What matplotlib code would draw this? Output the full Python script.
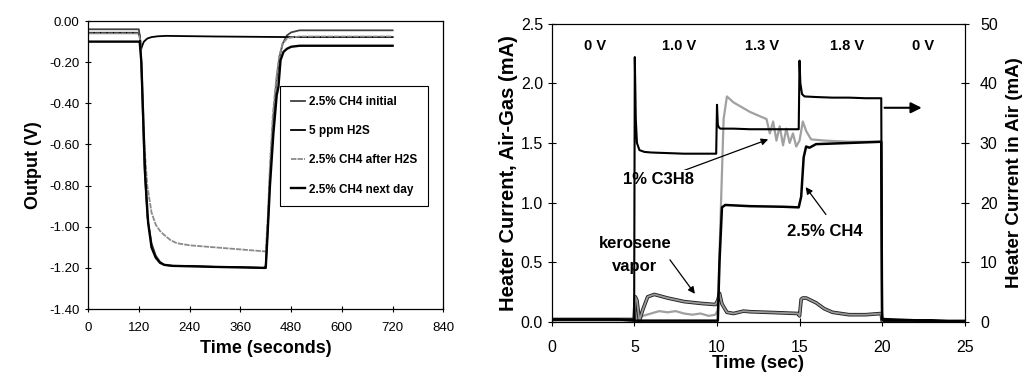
import matplotlib
matplotlib.use("Agg")
import matplotlib.pyplot as plt
import matplotlib.patheffects as pe
from matplotlib.ticker import FormatStrFormatter

plt.rcParams['font.family'] = ['Liberation Sans', 'DejaVu Sans']

# ---- left panel: sensor output, seconds ----
t_init = [0, 120, 124, 128, 133, 140, 150, 160, 170, 180, 200, 250, 300, 360, 415, 420, 425, 430, 437, 445, 452, 460, 470, 480, 500, 600, 720]
v_init = [-0.04, -0.04, -0.10, -0.35, -0.70, -0.95, -1.08, -1.14, -1.17, -1.185, -1.19, -1.19, -1.195, -1.195, -1.20, -1.19, -1.00, -0.75, -0.50, -0.30, -0.18, -0.11, -0.07, -0.055, -0.045, -0.045, -0.045]

t_h2s = [0, 118, 122, 125, 128, 132, 140, 150, 165, 185, 220, 300, 420, 480, 600, 720]
v_h2s = [-0.057, -0.057, -0.07, -0.14, -0.12, -0.10, -0.085, -0.078, -0.074, -0.072, -0.073, -0.075, -0.077, -0.078, -0.078, -0.078]

t_after = [0, 120, 124, 128, 133, 140, 150, 160, 170, 180, 195, 210, 240, 300, 360, 420, 425, 430, 437, 445, 452, 460, 470, 480, 500, 600, 720]
v_after = [-0.06, -0.06, -0.10, -0.30, -0.60, -0.80, -0.93, -0.99, -1.02, -1.04, -1.065, -1.08, -1.09, -1.10, -1.11, -1.12, -0.95, -0.70, -0.45, -0.28, -0.17, -0.11, -0.085, -0.08, -0.075, -0.075, -0.075]

t_next = [0, 122, 126, 130, 135, 142, 150, 160, 170, 180, 200, 300, 420, 424, 430, 438, 446, 450, 455, 462, 470, 480, 500, 600, 720]
v_next = [-0.10, -0.10, -0.20, -0.45, -0.75, -0.98, -1.10, -1.15, -1.175, -1.185, -1.19, -1.195, -1.20, -1.05, -0.80, -0.55, -0.36, -0.32, -0.19, -0.15, -0.135, -0.125, -0.12, -0.12, -0.12]

left_xticks = [0, 120, 240, 360, 480, 600, 720, 840]
left_yticks = [0.0, -0.2, -0.4, -0.6, -0.8, -1.0, -1.2, -1.4]

# ---- right panel: heater current, seconds ----
t_air = [0, 1, 2, 3, 4, 4.98, 5.02, 5.08, 5.15, 5.3, 5.6, 6, 7, 8, 9, 9.95, 10.0, 10.05, 10.12, 10.2, 11, 12, 13, 14, 14.95, 15.0, 15.05, 15.15, 15.3, 16, 17, 18, 19, 19.95, 20.0, 20.1, 21, 22, 23, 24, 25]
i_air = [0.4, 0.4, 0.4, 0.4, 0.4, 0.4, 44.4, 34.0, 30.0, 28.8, 28.5, 28.4, 28.3, 28.2, 28.2, 28.2, 36.4, 33.0, 32.6, 32.4, 32.4, 32.3, 32.3, 32.3, 32.3, 43.8, 40.0, 38.2, 37.8, 37.7, 37.6, 37.6, 37.5, 37.5, 0.6, 0.5, 0.4, 0.3, 0.3, 0.2, 0.2]

t_ch4 = [0, 2, 4, 5, 6, 8, 10.05, 10.15, 10.3, 10.5, 12, 14, 14.95, 15.1, 15.25, 15.4, 15.6, 16, 18, 19.95, 20.0, 20.1, 22, 25]
i_ch4 = [0.02, 0.02, 0.02, 0.01, 0.01, 0.01, 0.01, 0.50, 0.96, 0.98, 0.97, 0.965, 0.96, 1.05, 1.38, 1.47, 1.46, 1.49, 1.50, 1.51, 0.02, 0.01, 0.01, 0.0]

t_c3h8 = [0, 4.98, 5.05, 5.2, 5.5, 6, 6.5, 7, 7.5, 8, 8.5, 9, 9.5, 9.9, 10.05, 10.2, 10.4, 10.6, 11, 12, 12.5, 13, 13.2, 13.4, 13.6, 13.8, 14.0, 14.2, 14.4, 14.6, 14.8, 15.0, 15.2, 15.4, 15.7, 16.5, 18, 19.95, 20.0, 20.1, 25]
i_c3h8 = [0.02, 0.02, 0.08, 0.01, 0.05, 0.07, 0.09, 0.08, 0.09, 0.07, 0.06, 0.07, 0.05, 0.06, 0.10, 0.80, 1.70, 1.89, 1.84, 1.76, 1.73, 1.70, 1.58, 1.68, 1.52, 1.64, 1.48, 1.62, 1.50, 1.58, 1.47, 1.52, 1.68, 1.60, 1.53, 1.52, 1.51, 1.51, 0.02, 0.01, 0.0]

t_kero = [0, 4.98, 5.05, 5.15, 5.3, 5.5, 5.8, 6.2, 7, 8, 9, 9.9, 10.05, 10.15, 10.3, 10.6, 11, 11.6, 12, 13, 14, 14.9, 15.0, 15.1, 15.2, 15.4, 16, 16.5, 17, 18, 19, 19.95, 20.0, 20.1, 25]
i_kero = [0.02, 0.02, 0.21, 0.18, 0.01, 0.10, 0.21, 0.23, 0.20, 0.17, 0.155, 0.145, 0.18, 0.24, 0.15, 0.08, 0.07, 0.09, 0.085, 0.08, 0.075, 0.07, 0.05, 0.19, 0.20, 0.20, 0.16, 0.11, 0.08, 0.06, 0.06, 0.07, 0.01, 0.0, 0.0]

volt_labels = ['0 V', '1.0 V', '1.3 V', '1.8 V', '0 V']
volt_x = [2.6, 7.7, 12.7, 17.9, 22.5]

fig = plt.figure(figsize=(10.24, 3.76), dpi=100)

# left panel
ax1 = fig.add_axes([0.086, 0.178, 0.347, 0.766])
ax1.plot(t_init, v_init, color='#404040', lw=1.3, label='2.5% CH4 initial')
ax1.plot(t_h2s, v_h2s, color='black', lw=1.3, label='5 ppm H2S')
ax1.plot(t_after, v_after, color='#8a8a8a', lw=1.3, ls=(0, (3, 0.6)), label='2.5% CH4 after H2S')
ax1.plot(t_next, v_next, color='black', lw=1.7, label='2.5% CH4 next day')
ax1.set_xlim(0, 840)
ax1.set_ylim(-1.4, 0)
ax1.set_xticks(left_xticks)
ax1.set_yticks(left_yticks)
ax1.yaxis.set_major_formatter(FormatStrFormatter('%.2f'))
ax1.tick_params(direction='inout', length=5, width=0.8, labelsize=9.5)
ax1.tick_params(axis='x', pad=7)
ax1.set_xlabel('Time (seconds)', fontsize=13, fontweight='bold', labelpad=4)
ax1.set_ylabel('Output (V)', fontsize=13, fontweight='bold', labelpad=5)
leg = ax1.legend(loc='upper left', bbox_to_anchor=(0.541, 0.776),
                 prop={'weight': 'bold', 'size': 8.5}, handlelength=1.2, handletextpad=0.3,
                 labelspacing=1.45, borderpad=0.9, borderaxespad=0, fancybox=False,
                 framealpha=1, edgecolor='black')
leg.get_frame().set_linewidth(0.8)
for sp in ax1.spines.values():
    sp.set_linewidth(0.9)

# right panel
ax2 = fig.add_axes([0.539, 0.144, 0.403, 0.793])
ax3 = ax2.twinx()
ax2.plot(t_c3h8, i_c3h8, color='#a0a0a0', lw=1.6)
# kerosene trace: grey core with a dark rim
ax2.plot(t_kero, i_kero, color='#9a9a9a', lw=1.3,
         path_effects=[pe.Stroke(linewidth=2.6, foreground='#222222'), pe.Normal()])
ax2.plot(t_ch4, i_ch4, color='black', lw=1.8)
ax3.plot(t_air, i_air, color='black', lw=1.5)

ax2.set_xlim(0, 25)
ax2.set_ylim(0, 2.5)
ax3.set_ylim(0, 50)
ax2.set_xticks([0, 5, 10, 15, 20, 25])
ax2.set_yticks([0.0, 0.5, 1.0, 1.5, 2.0, 2.5])
ax2.yaxis.set_major_formatter(FormatStrFormatter('%.1f'))
ax3.set_yticks([0, 10, 20, 30, 40, 50])
ax2.tick_params(direction='inout', length=6, width=0.8, labelsize=11.5)
ax2.tick_params(axis='x', pad=10)
ax3.tick_params(direction='inout', length=6, width=0.8, labelsize=11.5, pad=8)
ax2.set_xlabel('Time (sec)', fontsize=13.5, fontweight='bold', labelpad=0)
ax2.set_ylabel('Heater Current, Air-Gas (mA)', fontsize=14.5, fontweight='bold', labelpad=2)
ax3.set_ylabel('Heater Current in Air (mA)', fontsize=13.5, fontweight='bold', labelpad=6)

for x, s in zip(volt_x, volt_labels):
    ax2.text(x, 2.31, s, ha='center', va='center', fontsize=10.5, fontweight='bold')

box = dict(facecolor='white', edgecolor='none', pad=1.5)
arrow = dict(arrowstyle='-|>', color='black', lw=0.9, mutation_scale=10, shrinkA=0, shrinkB=0)
ax2.annotate('1% C3H8', xy=(13.1, 1.53), xytext=(6.45, 1.19), ha='center', va='center',
             fontsize=12, fontweight='bold', bbox=box, arrowprops=arrow, zorder=5)
ax2.annotate('', xy=(15.37, 1.13), xytext=(16.6, 0.9), arrowprops=arrow, zorder=5)
ax2.text(16.55, 0.76, '2.5% CH4', ha='center', va='center', fontsize=12, fontweight='bold')
ax2.annotate('', xy=(8.66, 0.235), xytext=(7.15, 0.52), arrowprops=arrow, zorder=5)
ax2.text(5.05, 0.66, 'kerosene', ha='center', va='center', fontsize=12, fontweight='bold',
         bbox=box, zorder=5)
ax2.text(5.0, 0.46, 'vapor', ha='center', va='center', fontsize=12, fontweight='bold',
         bbox=box, zorder=5)
ax2.annotate('', xy=(22.4, 1.795), xytext=(20.15, 1.795),
             arrowprops=dict(arrowstyle='-|>', color='black', lw=1.5, mutation_scale=16,
                             shrinkA=0, shrinkB=0))

fig.savefig('out.png', dpi=100)
